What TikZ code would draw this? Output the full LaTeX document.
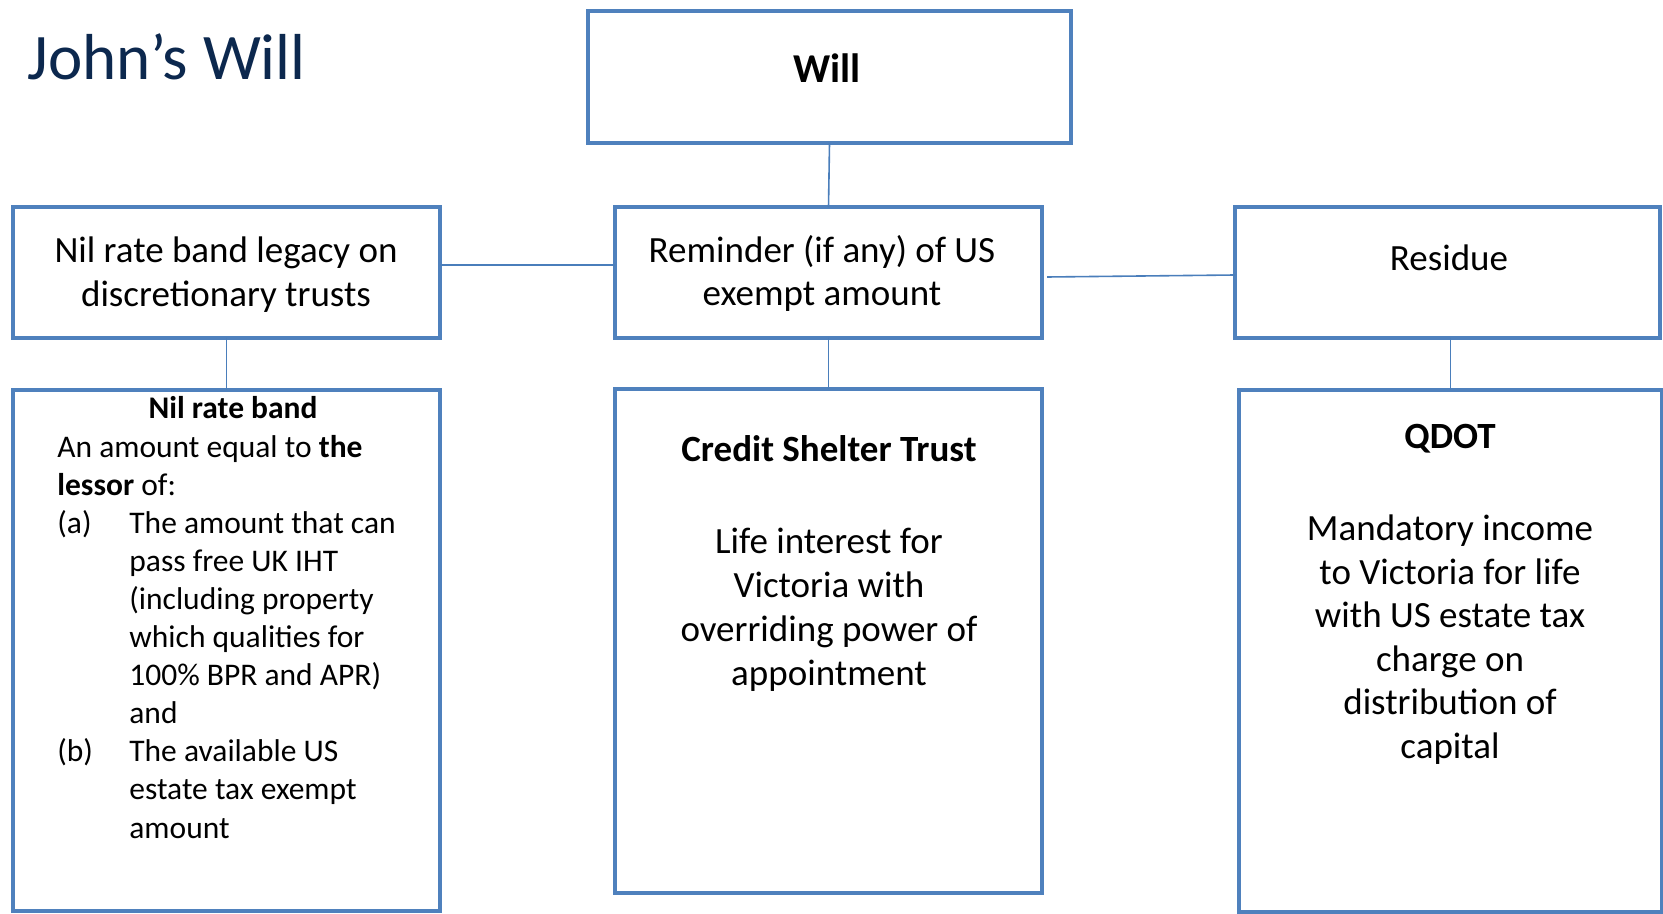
\documentclass[tikz,border=0pt]{standalone}
\usepackage{fontspec}
\setmainfont{Carlito}
\usetikzlibrary{calc}
\definecolor{boxblue}{RGB}{79,129,189}
\definecolor{linkblue}{RGB}{74,126,187}
\definecolor{navy}{RGB}{12,40,78}
\begin{document}
\begin{tikzpicture}[x=0.5pt,y=-0.5pt,
  box/.style={draw=boxblue, line width=2pt, rectangle, inner sep=0pt, outer sep=0pt},
  conn/.style={draw=linkblue, line width=0.8pt},
  big/.style={font=\fontsize{18.5}{21.75}\selectfont, align=center, anchor=base, inner sep=0pt},
  bigwide/.style={font=\fontsize{18.5}{22}\selectfont, align=center, anchor=base, inner sep=0pt},
  bigbold/.style={font=\fontsize{18.5}{21.75}\selectfont\bfseries, align=center, anchor=base, inner sep=0pt},
  small/.style={font=\fontsize{15.75}{19.05}\selectfont, align=left, anchor=base west, inner sep=0pt},
  smallbold/.style={font=\fontsize{15.75}{19.05}\selectfont\bfseries, anchor=base, inner sep=0pt},
]
\useasboundingbox (0,0) rectangle (1663,914);
\clip (0,0) rectangle (1663,914);
\fill[white] (0,0) rectangle (1663,914);

% boxes
\node[box, minimum width=241.5pt, minimum height=66pt] (will) at (829.5,77) {};
\node[box, minimum width=213.5pt, minimum height=65.5pt] (nil) at (226.5,272.5) {};
\node[box, minimum width=213.5pt, minimum height=65.5pt] (rem) at (828.5,272.5) {};
\node[box, minimum width=212.5pt, minimum height=65.5pt] (res) at (1447.5,272.5) {};
\node[box, minimum width=213.5pt, minimum height=260.5pt] (nrb) at (226.5,650.5) {};
\node[box, minimum width=213.5pt, minimum height=252pt] (cst) at (828.5,641) {};
\node[box, minimum width=211.5pt, minimum height=261pt] (qdot) at (1450.5,651) {};

% connectors
\coordinate (yl) at (0,265);
\coordinate (yr1) at (0,277);
\coordinate (yr2) at (0,275);
\draw[conn] (nil.east |- yl) -- (rem.west |- yl);
\draw[conn] ($(rem.east |- yr1)+(5,0)$) -- (res.west |- yr2);
\draw[conn] (will.south) -- (rem.north);
\draw[conn] (nil.south) -- (nrb.north);
\draw[conn] (rem.south) -- (cst.north);
\draw[conn] (qdot.north |- res.south) -- (qdot.north);

% texts (base anchor of a multi-line node = baseline of its last line)
\node[font=\fontsize{32.5}{39}\selectfont, text=navy, anchor=base west, inner sep=0pt] (title) at (27,80) {John’s Will};
\node[font=\fontsize{20.5}{24}\selectfont\bfseries, anchor=base, inner sep=0pt] (willt) at (827,83) {Will};
\node[big] (nilt) at (226,306.5) {Nil rate band legacy on\\discretionary trusts};
\node[big] (remt) at (822,306) {Reminder (if any) of US\\exempt amount};
\node[big] (rest) at (1449,271) {Residue};
\node[bigbold] (cstt) at (829,461) {Credit Shelter Trust};
\node[bigwide] (cstb) at (829,685) {Life interest for\\Victoria with\\overriding power of\\appointment};
\node[bigbold] (qdott) at (1450,448) {QDOT};
\node[big] (qdotb) at (1450,758) {Mandatory income\\to Victoria for life\\with US estate tax\\charge on\\distribution of\\capital};
\node[smallbold] (nrbt) at (233,418) {Nil rate band};
\node[small] (nrbb) at (57,838) {An amount equal to \textbf{the}\\
\textbf{lessor} of:\\
\makebox[36pt][l]{(a)}The amount that can\\
\hspace*{36pt}pass free UK IHT\\
\hspace*{36pt}(including property\\
\hspace*{36pt}which qualities for\\
\hspace*{36pt}100\% BPR and APR)\\
\hspace*{36pt}and\\
\makebox[36pt][l]{(b)}The available US\\
\hspace*{36pt}estate tax exempt\\
\hspace*{36pt}amount};
\end{tikzpicture}
\end{document}
